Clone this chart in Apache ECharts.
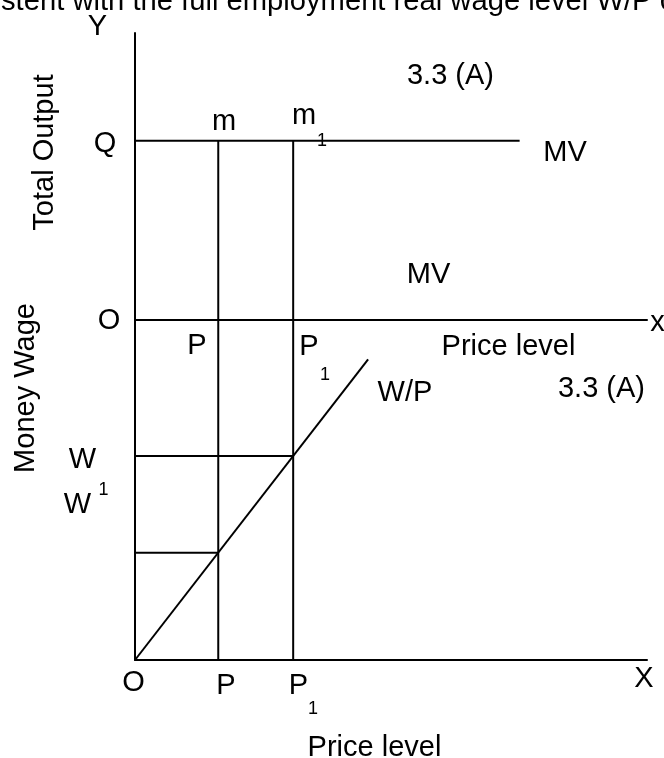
<!DOCTYPE html>
<html>
<head>
<meta charset="utf-8">
<style>
  html, body { margin: 0; padding: 0; background: #fff; }
  #chart { width: 664px; height: 758px; }
</style>
<script src="https://cdn.jsdelivr.net/npm/echarts@6/dist/echarts.min.js"></script>
</head>
<body>
<div id="chart"></div>
<script>
// ---- Data (abstract units) ----
// Price levels on the horizontal axes
var priceLevels = { P: 1, P1: 1.9 };
// Upper panel: total output vs price level
var outputQ = 1;                       // full-employment output Q
var mvLineEnd = 4.62;                  // where the MV line stops
var upperAxis = { xMax: 6.15, yMax: 1.6 };
// Lower panel: money wage vs price level
var wageW1 = 1.01;                     // money wage at P
var wageW = 1.92;                      // money wage at P1
var wpLineEnd = [2.8, 2.83];           // end of the W/P line
var lowerAxis = { xMax: 6.15, yMax: 3.2 };

// Series coordinates built from the values above
var mvLine = [[0, outputQ], [mvLineEnd, outputQ]];
var mUpper = [[priceLevels.P, 0], [priceLevels.P, outputQ]];
var m1Upper = [[priceLevels.P1, 0], [priceLevels.P1, outputQ]];
var wpLine = [[0, 0], wpLineEnd];
var pLower = [[priceLevels.P, 0], [priceLevels.P, lowerAxis.yMax]];
var p1Lower = [[priceLevels.P1, 0], [priceLevels.P1, lowerAxis.yMax]];
var wLine = [[0, wageW], [priceLevels.P1, wageW]];
var w1Line = [[0, wageW1], [priceLevels.P, wageW1]];

// ---- Annotation texts ----
var FONT = '"Liberation Sans", Arial, Helvetica, sans-serif';
var DY = 2.5;
var annotations = [
  { t: 'stent with the full employment real wage level W/P c', x: 1, y: -1, a: 'left', s: 29.2 },
  { t: 'Y', x: 97.5, y: 24 },
  { t: 'Total Output', x: 42, y: 152.5, r: Math.PI / 2 },
  { t: 'Money Wage', x: 23, y: 388, r: Math.PI / 2 },
  { t: 'Q', x: 105, y: 141 },
  { t: 'm', x: 224, y: 119 },
  { t: 'm', x: 304, y: 113 },
  { t: '1', x: 322, y: 139, s: 18 },
  { t: '3.3 (A)', x: 450.5, y: 73 },
  { t: 'MV', x: 565, y: 150 },
  { t: 'MV', x: 428.5, y: 272 },
  { t: 'O', x: 109, y: 318 },
  { t: 'x', x: 657.5, y: 320 },
  { t: 'P', x: 197, y: 343 },
  { t: 'P', x: 309, y: 344 },
  { t: '1', x: 325, y: 373, s: 18 },
  { t: 'Price level', x: 508.5, y: 344 },
  { t: 'W/P', x: 405, y: 390 },
  { t: '3.3 (A)', x: 601.5, y: 386 },
  { t: 'W', x: 82.5, y: 457.5 },
  { t: 'W', x: 77.5, y: 502 },
  { t: '1', x: 103.5, y: 487.5, s: 18 },
  { t: 'O', x: 133.5, y: 680 },
  { t: 'P', x: 226, y: 683 },
  { t: 'P', x: 298.5, y: 683 },
  { t: '1', x: 313, y: 707, s: 18 },
  { t: 'X', x: 644, y: 676 },
  { t: 'Price level', x: 374.5, y: 745 }
];

var lineStyle = { color: '#000', width: 2 };
function seg(data, gi) {
  return {
    type: 'line', data: data, xAxisIndex: gi, yAxisIndex: gi,
    symbol: 'none', showSymbol: false, silent: true, clip: false,
    lineStyle: lineStyle, emphasis: { disabled: true }
  };
}
function axisBase(extra) {
  return Object.assign({
    type: 'value', min: 0,
    axisLine: { show: true, onZero: true, lineStyle: lineStyle },
    axisTick: { show: false }, axisLabel: { show: false },
    splitLine: { show: false }
  }, extra);
}

var chart = echarts.init(document.getElementById('chart'), null, { renderer: 'canvas' });
chart.setOption({
  animation: false,
  backgroundColor: '#fff',
  grid: [
    { left: 135, top: 33, width: 512, height: 287 },
    { left: 135, top: 320, width: 512, height: 340 }
  ],
  xAxis: [
    axisBase({ gridIndex: 0, max: upperAxis.xMax }),
    axisBase({ gridIndex: 1, max: lowerAxis.xMax })
  ],
  yAxis: [
    axisBase({ gridIndex: 0, max: upperAxis.yMax }),
    axisBase({ gridIndex: 1, max: lowerAxis.yMax })
  ],
  series: [
    seg(mvLine, 0), seg(mUpper, 0), seg(m1Upper, 0),
    seg(wpLine, 1), seg(pLower, 1), seg(p1Lower, 1),
    seg(wLine, 1), seg(w1Line, 1)
  ],
  graphic: annotations.map(function (a) {
    return {
      type: 'text', x: a.x + (a.r ? DY : 0), y: a.y + (a.r ? 0 : DY),
      rotation: a.r || 0, silent: true,
      style: {
        text: a.t, fill: '#000',
        font: (a.s || 29) + 'px ' + FONT,
        align: a.a || 'center', verticalAlign: 'middle'
      }
    };
  })
});
</script>
</body>
</html>
